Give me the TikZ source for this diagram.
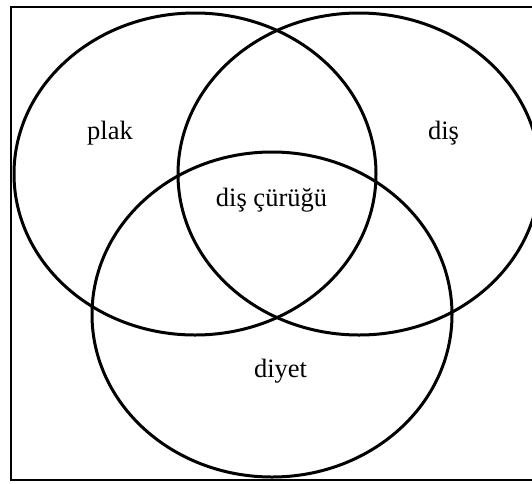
\documentclass[tikz,border=0pt]{standalone}
\usepackage{fontspec}
\setmainfont{Liberation Serif}
\begin{document}
\begin{tikzpicture}[x=1pt,y=-1pt,
  setcircle/.style={draw=black,line width=3pt},
  lbl/.style={anchor=base,inner sep=0pt,font=\fontsize{26.5}{30}\selectfont}]
\useasboundingbox (0,0) rectangle (532,483);
\clip (0,0) rectangle (532,483);
\fill[white] (0,0) rectangle (532,483);
\draw[line width=2.4pt] (545,7) -- (11,7) -- (11,480) -- (545,480);
\draw[setcircle] (195,174) ellipse [x radius=181, y radius=161];
\draw[setcircle] (359,174) ellipse [x radius=181, y radius=161];
\draw[setcircle] (272,314.5) ellipse [x radius=180, y radius=162.5];
\node[lbl] (plak) at (110,139) {plak};
\node[lbl] (dis) at (443.5,139) {diş};
\node[lbl] (curuk) at (271.5,206) {diş çürüğü};
\node[lbl] (diyet) at (280.5,377) {diyet};
\end{tikzpicture}
\end{document}
